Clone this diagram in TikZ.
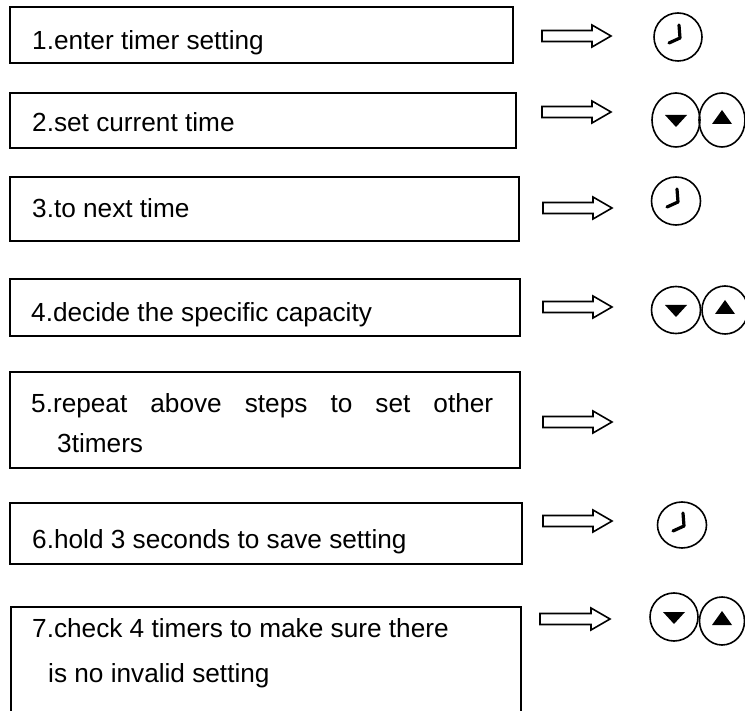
\documentclass[tikz,border=0pt]{standalone}
\usepackage{fontspec}
\setmainfont{Liberation Sans}
\usetikzlibrary{shapes.geometric}
\tikzset{
  stepbox/.style={draw, line width=1.6pt, rectangle, inner sep=0pt, outer sep=0pt, anchor=north west},
  txt/.style={anchor=base west, inner sep=0pt, font=\fontsize{26.2}{30}\selectfont},
  btn/.style={draw, ellipse, line width=1.6pt, inner sep=0pt},
  hand/.style={line width=3.2pt, line cap=round, line join=round},
  barrow/.style={draw, line width=1.6pt, line join=miter},
}
\newcommand\blockarr[3]{%
  \draw[barrow] (#1,#3-5.5) -- (#2-19,#3-5.5) -- (#2-19,#3-11) -- (#2,#3)
     -- (#2-19,#3+11) -- (#2-19,#3+5.5) -- (#1,#3+5.5) -- cycle;}
\newcommand\clockhands[1]{%
  \draw[hand] ([shift={(1,-12)}]#1.center) -- ([shift={(2,1)}]#1.center) -- ([shift={(-9,6)}]#1.center);}
\newcommand\downtri[1]{%
  \fill ([shift={(-11,-5)}]#1.center) -- ([shift={(11,-5)}]#1.center) -- ([shift={(0,7)}]#1.center) -- cycle;}
\newcommand\uptri[1]{%
  \fill ([shift={(-10,4)}]#1.center) -- ([shift={(10,4)}]#1.center) -- ([shift={(0,-10)}]#1.center) -- cycle;}
\begin{document}
\begin{tikzpicture}[x=1pt, y=-1pt]
\useasboundingbox (0,0) rectangle (745,711);
\clip (0,0) rectangle (745,711);
\fill[white] (0,0) rectangle (745,711);

% boxes
\node[stepbox, minimum width=503pt, minimum height=56pt] (b1) at (10,7) {};
\node[stepbox, minimum width=506pt, minimum height=55pt] (b2) at (10,93) {};
\node[stepbox, minimum width=509pt, minimum height=64pt] (b3) at (10,177) {};
\node[stepbox, minimum width=510pt, minimum height=57pt] (b4) at (10,279) {};
\node[stepbox, minimum width=510pt, minimum height=96pt] (b5) at (10,372) {};
\node[stepbox, minimum width=512pt, minimum height=61pt] (b6) at (10,503) {};
\node[stepbox, minimum width=510pt, minimum height=130pt] (b7) at (11,607) {};

% texts
\node[txt] (t1) at (32,50) {1.enter timer setting};
\node[txt] (t2) at (32,132) {2.set current time};
\node[txt] (t3) at (32,218) {3.to next time};
\node[txt] (t4) at (31,322) {4.decide the specific capacity};
\node[txt] (t5a) at (31,413) {\makebox[462pt][s]{5.repeat above steps to set other}};
\node[txt] (t5b) at (57,453) {3timers};
\node[txt] (t6) at (32,548) {6.hold 3 seconds to save setting};
\node[txt] (t7a) at (32,637) {7.check 4 timers to make sure there};
\node[txt] (t7b) at (48,682) {is no invalid setting};

% block arrows
\blockarr{542}{611}{36}
\blockarr{542}{611}{112}
\blockarr{543}{612}{208}
\blockarr{543}{612}{307}
\blockarr{543}{612}{422}
\blockarr{543}{612}{521}
\blockarr{540}{610}{619}

% icons
\node[btn, minimum width=48pt, minimum height=48pt] (c1) at (678,37) {};
\clockhands{c1}
\node[btn, minimum width=48pt, minimum height=54pt] (d2) at (676,120) {};
\node[btn, minimum width=46pt, minimum height=54pt] (u2) at (722,120) {};
\downtri{d2}\uptri{u2}
\node[btn, minimum width=49pt, minimum height=48pt] (c3) at (676,201) {};
\clockhands{c3}
\node[btn, minimum width=49pt, minimum height=47pt] (d4) at (676,310) {};
\node[btn, minimum width=46pt, minimum height=48pt] (u4) at (725,310) {};
\downtri{d4}\uptri{u4}
\node[btn, minimum width=49pt, minimum height=46pt] (c6) at (682,525) {};
\clockhands{c6}
\node[btn, minimum width=48pt, minimum height=48pt] (d7) at (674,617) {};
\node[btn, minimum width=45pt, minimum height=48pt] (u7) at (722,621) {};
\downtri{d7}\uptri{u7}
\end{tikzpicture}
\end{document}
